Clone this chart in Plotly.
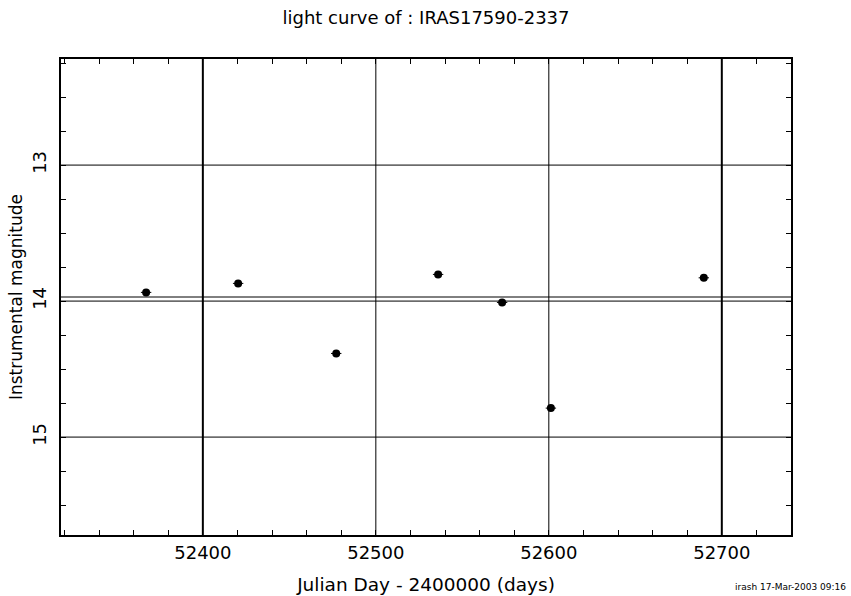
import plotly.graph_objects as go

# Data
jd = [52367.2, 52420.4, 52477.1, 52536.0, 52573.0, 52601.2, 52689.6]
mag = [13.936, 13.870, 14.385, 13.804, 14.010, 14.787, 13.829]
jd_err = [3.0, 3.0, 3.0, 3.0, 3.0, 3.0, 3.0]
mag_err = [0.012, 0.012, 0.012, 0.012, 0.012, 0.012, 0.012]

ref_level = 13.97           # horizontal reference line
x_labels = [52400, 52500, 52600, 52700]
y_labels = [13, 14, 15]
x_minor = list(range(52320, 52741, 20))
y_minor = [12.25 + 0.25 * i for i in range(15)]

title_text = "light curve of : IRAS17590-2337"
x_title = "Julian Day - 2400000 (days)"
y_title = "Instrumental magnitude"
footnote = "irash 17-Mar-2003 09:16"

FONT = "DejaVu Sans"

fig = go.Figure()
fig.add_trace(go.Scatter(
    x=jd, y=mag, mode="markers",
    marker=dict(color="black", size=8, symbol="circle"),
    error_x=dict(type="data", array=jd_err, color="black", thickness=1, width=0),
    error_y=dict(type="data", array=mag_err, color="black", thickness=1, width=0),
    showlegend=False, hoverinfo="x+y",
))

shapes = []
for v in x_labels:
    w = 2 if v in (52400, 52700) else 1
    shapes.append(dict(type="line", xref="x", yref="paper", x0=v, x1=v, y0=0, y1=1,
                       line=dict(color="black", width=w), layer="below"))
for v in y_labels + [ref_level]:
    shapes.append(dict(type="line", xref="paper", yref="y", x0=0, x1=1, y0=v, y1=v,
                       line=dict(color="black", width=1), layer="below"))

fig.update_layout(
    width=851, height=596,
    margin=dict(l=61, r=60, t=59, b=61, autoexpand=False),
    paper_bgcolor="white", plot_bgcolor="white",
    font=dict(family=FONT, color="black", size=16),
    title=dict(text=title_text, x=0.5, xanchor="center", xref="paper",
               y=1 - 18 / 596, yanchor="middle", automargin=False,
               font=dict(family=FONT, size=18, color="black")),
    shapes=shapes,
    showlegend=False,
)

fig.update_xaxes(
    range=[52318, 52740], automargin=False,
    tickmode="array", tickvals=x_minor,
    ticktext=[str(v) if v in x_labels else "" for v in x_minor],
    ticks="inside", ticklen=5, tickwidth=1, tickcolor="black",
    showline=True, linewidth=2, linecolor="black", mirror="allticks",
    showgrid=False, zeroline=False,
    tickfont=dict(family=FONT, size=18, color="black"),
    title=dict(text=x_title, font=dict(family=FONT, size=18.5, color="black"), standoff=16),
)
fig.update_yaxes(
    range=[15.72, 12.22], automargin=False,
    tickmode="array", tickvals=y_minor,
    ticktext=[str(int(v)) if v in y_labels else "" for v in y_minor],
    ticks="inside", ticklen=5, tickwidth=1, tickcolor="black",
    showline=True, linewidth=2, linecolor="black", mirror="allticks",
    showgrid=False, zeroline=False, tickangle=-90,
    ticklabelstandoff=6,
    tickfont=dict(family=FONT, size=18, color="black"),
    title=dict(text=y_title, font=dict(family=FONT, size=17, color="black"), standoff=2),
)

fig.add_annotation(text=footnote, xref="paper", yref="paper", x=1 + 57 / 730, y=-52 / 476,
                   xanchor="right", yanchor="middle", showarrow=False,
                   font=dict(family=FONT, size=9, color="black"))

fig.write_html("out.html", config={"displayModeBar": False},
               post_script="document.body.style.margin='0';document.body.style.overflow='hidden';")
